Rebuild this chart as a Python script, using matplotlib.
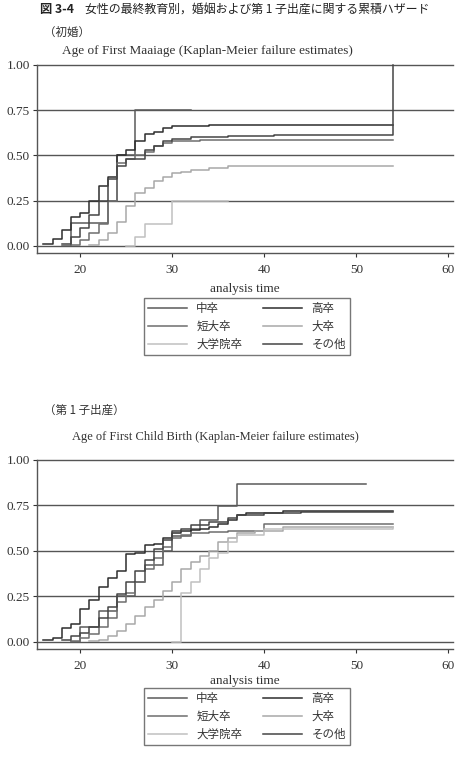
import matplotlib
matplotlib.use("Agg")
import matplotlib.pyplot as plt
from matplotlib.lines import Line2D

plt.rcParams['font.family'] = ['Liberation Serif', 'Noto Sans CJK JP', 'DejaVu Sans']

# group names and grey shades
groups = ['中卒', '高卒', '短大卒', '大卒', '大学院卒', 'その他']
colors = ['#5a5a5a', '#2e2e2e', '#6e6e6e', '#a8a8a8', '#c0c0c0', '#454545']

# --- first marriage: age at step, cumulative failure after step
mar_age_chu = [18, 19, 23, 24, 26, 32]
mar_val_chu = [0.0, 0.125, 0.25, 0.50, 0.75, 0.75]
mar_age_kou = [16, 17, 18, 19, 20, 21, 22, 23, 24, 25, 26, 27, 28, 29, 30, 32, 34, 54]
mar_val_kou = [0.01, 0.035, 0.085, 0.16, 0.18, 0.25, 0.33, 0.38, 0.50, 0.53, 0.58, 0.62, 0.63, 0.65, 0.66, 0.665, 0.67, 0.67]
mar_age_tan = [19, 20, 21, 22, 23, 24, 25, 26, 27, 28, 29, 30, 33, 54]
mar_val_tan = [0.005, 0.03, 0.07, 0.12, 0.25, 0.46, 0.48, 0.50, 0.52, 0.55, 0.57, 0.58, 0.585, 0.585]
mar_age_dai = [21, 22, 23, 24, 25, 26, 27, 28, 29, 30, 31, 32, 34, 36, 54]
mar_val_dai = [0.005, 0.03, 0.07, 0.13, 0.22, 0.29, 0.32, 0.36, 0.38, 0.40, 0.41, 0.42, 0.43, 0.44, 0.44]
mar_age_in = [25, 26, 27, 30, 36]
mar_val_in = [0.0, 0.05, 0.12, 0.245, 0.245]
mar_age_oth = [18, 19, 20, 21, 22, 23, 24, 25, 27, 28, 29, 30, 32, 36, 41, 54, 54]
mar_val_oth = [0.01, 0.05, 0.10, 0.17, 0.25, 0.37, 0.44, 0.48, 0.53, 0.55, 0.58, 0.59, 0.60, 0.605, 0.615, 1.0, 1.0]

# --- first child birth
bir_age_chu = [19, 20, 22, 24, 26, 27, 29, 30, 32, 33, 35, 37, 51]
bir_val_chu = [0.0, 0.08, 0.17, 0.25, 0.33, 0.42, 0.50, 0.58, 0.62, 0.67, 0.745, 0.87, 0.87]
bir_age_kou = [16, 17, 18, 19, 20, 21, 22, 23, 24, 25, 26, 27, 28, 29, 30, 31, 32, 33, 34, 35, 36, 37, 38, 42, 54]
bir_val_kou = [0.01, 0.02, 0.075, 0.10, 0.18, 0.23, 0.30, 0.35, 0.39, 0.48, 0.49, 0.53, 0.54, 0.57, 0.60, 0.61, 0.615, 0.62, 0.63, 0.65, 0.67, 0.70, 0.71, 0.72, 0.72]
bir_age_tan = [19, 20, 21, 22, 23, 24, 25, 26, 27, 28, 29, 30, 31, 32, 34, 36, 40, 54]
bir_val_tan = [0.005, 0.02, 0.04, 0.08, 0.13, 0.22, 0.27, 0.33, 0.40, 0.46, 0.52, 0.57, 0.59, 0.60, 0.605, 0.61, 0.65, 0.65]
bir_age_dai = [21, 22, 23, 24, 25, 26, 27, 28, 29, 30, 31, 32, 33, 34, 35, 36, 37, 39, 42, 54]
bir_val_dai = [0.005, 0.01, 0.03, 0.06, 0.10, 0.14, 0.19, 0.23, 0.28, 0.33, 0.40, 0.44, 0.47, 0.50, 0.55, 0.57, 0.60, 0.61, 0.63, 0.63]
bir_age_in = [30, 31, 32, 33, 34, 35, 36, 37, 40, 54]
bir_val_in = [0.0, 0.27, 0.33, 0.40, 0.46, 0.49, 0.55, 0.59, 0.62, 0.63]
bir_age_oth = [18, 19, 20, 21, 22, 23, 24, 25, 26, 27, 28, 29, 30, 31, 32, 34, 36, 37, 40, 44, 54]
bir_val_oth = [0.01, 0.03, 0.05, 0.08, 0.13, 0.19, 0.26, 0.33, 0.39, 0.45, 0.51, 0.56, 0.61, 0.62, 0.64, 0.66, 0.68, 0.70, 0.71, 0.715, 0.715]

mar_series = [(mar_age_chu, mar_val_chu), (mar_age_kou, mar_val_kou), (mar_age_tan, mar_val_tan),
              (mar_age_dai, mar_val_dai), (mar_age_in, mar_val_in), (mar_age_oth, mar_val_oth)]
bir_series = [(bir_age_chu, bir_val_chu), (bir_age_kou, bir_val_kou), (bir_age_tan, bir_val_tan),
              (bir_age_dai, bir_val_dai), (bir_age_in, bir_val_in), (bir_age_oth, bir_val_oth)]

x_ticks = [20, 30, 40, 50, 60]
y_ticks = [0.0, 0.25, 0.5, 0.75, 1.0]

W, H = 459, 773
fig = plt.figure(figsize=(W / 100, H / 100), dpi=100)
cjk = ['Noto Sans CJK JP', 'DejaVu Sans']


def px_axes(left, top, right, bottom):
    return fig.add_axes([left / W, 1 - bottom / H, (right - left) / W, (bottom - top) / H])


def km_panel(ax, series, title, title_x, title_y, title_size, xlab_pad):
    for y in y_ticks:
        ax.axhline(y, color='#555555', lw=1.0, zorder=1, clip_on=False)
    for (ages, vals), c in zip(series, colors):
        ax.step(ages, vals, where='post', color=c, lw=1.1, zorder=3, clip_on=False)
    ax.set_xlim(15.3, 60.5)
    ax.set_ylim(-0.04, 1.0)
    ax.set_xticks(x_ticks)
    ax.set_yticks(y_ticks)
    ax.set_yticklabels(['%.2f' % v for v in y_ticks])
    ax.spines['top'].set_visible(False)
    ax.spines['right'].set_visible(False)
    for s in ['left', 'bottom']:
        ax.spines[s].set_color('#555555')
        ax.spines[s].set_linewidth(1.0)
    ax.tick_params(axis='both', labelsize=9.5, colors='#333333', length=3, width=0.8, direction='out')
    ax.tick_params(axis='x', pad=5)
    ax.tick_params(axis='y', pad=2)
    ax.set_xlabel('analysis time', fontsize=9.5, color='#333333', labelpad=xlab_pad)
    fig.text(title_x / W, 1 - title_y / H, title, fontsize=title_size, color='#333333', ha='center', va='center')


def legend_box(top_px):
    handles = [Line2D([], [], color=c, lw=1.1) for c in colors]
    order = [0, 2, 4, 1, 3, 5]
    leg = fig.legend([handles[i] for i in order], [groups[i] for i in order], ncol=2,
                     loc='upper left', bbox_to_anchor=(138 / W, 1 - top_px / H, 218 / W, 0.01),
                     mode='expand', frameon=True, fancybox=False, edgecolor='#555555',
                     handlelength=3.4, handletextpad=0.8, labelspacing=0.42, borderpad=0.35,
                     columnspacing=1.0, prop={'family': cjk, 'size': 8.3})
    leg.get_frame().set_linewidth(1.0)
    for t in leg.get_texts():
        t.set_color('#333333')


fig.text(40 / W, 1 - 10 / H, '図 3-4', fontsize=8.8, fontweight='bold', family=cjk, color='#222222', va='center')
fig.text(85 / W, 1 - 10 / H, '女性の最終教育別，婚姻および第 1 子出産に関する累積ハザード', fontsize=8.6,
         family=cjk, color='#222222', va='center')
fig.text(44 / W, 1 - 32 / H, '（初婚）', fontsize=8.3, family=cjk, color='#333333', va='center')
fig.text(44 / W, 1 - 410 / H, '（第 1 子出産）', fontsize=8.3, family=cjk, color='#333333', va='center')

ax1 = px_axes(37, 65, 453, 253)
km_panel(ax1, mar_series, 'Age of First Maaiage (Kaplan-Meier failure estimates)', 207, 51, 9.5, 5)
legend_box(300)

ax2 = px_axes(37, 460, 453, 649)
km_panel(ax2, bir_series, 'Age of First Child Birth (Kaplan-Meier failure estimates)', 215, 437, 9.0, 2)
legend_box(690)

fig.savefig('out.png', dpi=100)
